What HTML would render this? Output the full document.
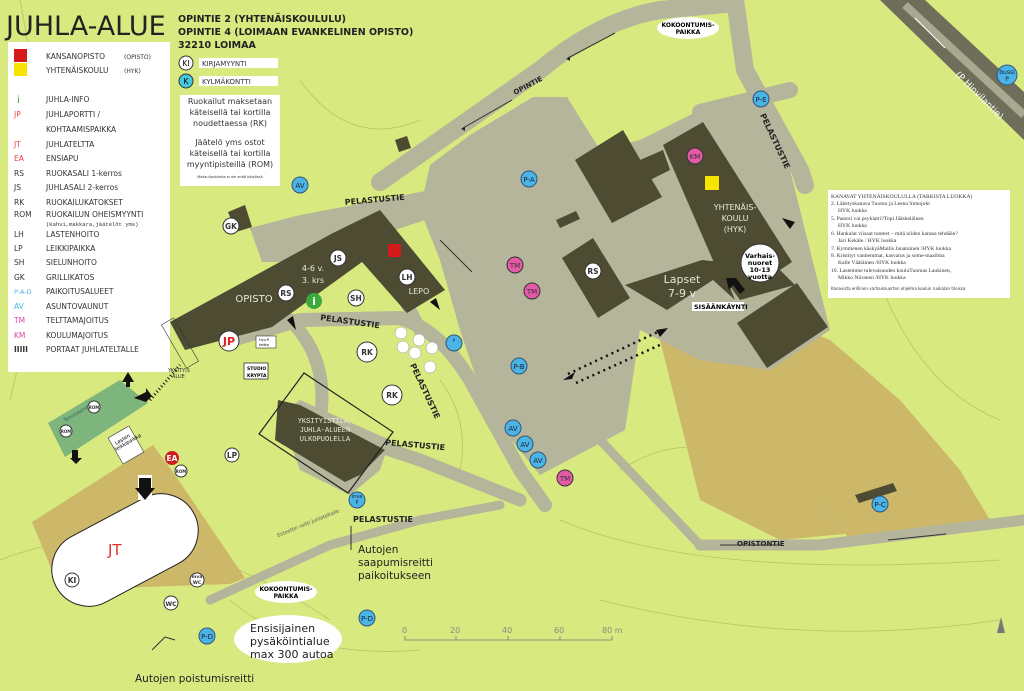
<!DOCTYPE html>
<html><head><meta charset="utf-8"><style>
html,body{margin:0;padding:0;background:#d8e97f;}
svg{display:block;font-family:"DejaVu Sans","Liberation Sans",sans-serif;}
.c{stroke:#333;stroke-width:1}
</style></head><body>
<svg width="1024" height="691" viewBox="0 0 1024 691" xmlns="http://www.w3.org/2000/svg">
<rect width="1024" height="691" fill="#d8e97f"/>
<g fill="none" stroke="#b4c46a" stroke-width="0.8">
<path d="M0 560 Q150 500 330 620"/><path d="M560 520 Q700 580 1000 560"/><path d="M600 600 Q800 650 1000 620"/>
<path d="M20 0 Q60 200 10 400"/><path d="M300 80 Q350 150 420 120"/><path d="M860 220 Q900 380 1000 420"/>
<path d="M440 380 Q470 420 460 470"/><path d="M620 470 Q700 420 760 480"/><path d="M230 600 Q300 660 420 650"/>
</g>
<!-- tan areas -->
<polygon points="650,300 730,300 830,340 900,400 960,470 990,520 940,525 780,540 700,500" fill="#cdb86a"/>
<polygon points="820,500 880,480 930,500 960,530 900,540 850,540" fill="#cdb86a"/>
<polygon points="32,522 153,445 175,475 245,578 230,584 60,590" fill="#cdb86a"/>
<!-- roads -->
<g stroke="#b4b59a" fill="none" stroke-linecap="round" stroke-linejoin="round">
<path d="M380 182 L540 70 Q600 20 660 10 L735 3" stroke-width="18"/>
<path d="M735 0 L745 70 L800 170 L805 185" stroke-width="18"/>
<path d="M700 112 L790 90" stroke-width="16"/>
<path d="M232 340 L300 320 L400 318 Q440 330 470 380 L520 470 L545 505" stroke-width="14"/>
<path d="M290 320 Q330 360 320 420" stroke-width="13"/>
<path d="M300 410 L360 440 L420 460 L470 480 L520 500" stroke-width="13"/>
<path d="M380 250 L410 310 L420 330" stroke-width="13"/>
<path d="M600 440 L700 545" stroke-width="9"/>
<path d="M700 545 L820 545 L1024 520" stroke-width="11"/>
<path d="M210 600 L330 545 L420 520 L500 505" stroke-width="9"/>
</g>
<polygon points="430,165 470,135 533,97 567,97 600,150 640,140 700,110 760,100 790,170 830,330 770,370 700,360 640,330 625,430 540,475 487,410 460,330 440,260 420,210" fill="#b4b59a"/>
<polygon points="250,228 300,215 380,200 430,190 440,215 300,262 262,262" fill="#b4b59a"/>
<polygon points="280,415 300,400 390,440 380,470 350,495 300,470" fill="#b4b59a"/>
<!-- top right dark road -->
<polygon points="880,0 925,0 1024,92 1024,140" fill="#6f6e5a"/>
<line x1="905" y1="5" x2="1024" y2="115" stroke="#a9a890" stroke-width="8"/>
<text x="955" y="75" font-size="9" fill="#fff" transform="rotate(45 955 75)">(P Hinvilantie)</text>
<line x1="915" y1="18" x2="945" y2="48" stroke="#fff" stroke-width="1"/>
<!-- opisto building -->
<polygon points="170,322 333,233 380,210 445,290 407,313 362,262 272,327 185,350" fill="#4d4c33"/>
<polygon points="278,400 300,405 385,450 360,475 345,482 275,440" fill="#4d4c33"/>
<polygon points="259,434 304,373 393,432 348,493" fill="none" stroke="#222" stroke-width="1.2"/>
<polygon points="228,212 245,205 252,227 236,232" fill="#4d4c33"/>
<polygon points="395,140 407,136 411,148 399,152" fill="#4d4c33"/>
<!-- school -->
<polygon points="575,160 623,130 662,197 612,223" fill="#4d4c33"/>
<polygon points="640,160 663,150 670,170 650,180" fill="#4d4c33"/>
<polygon points="663,145 703,122 792,262 780,270 795,285 740,300 715,265" fill="#4d4c33"/>
<polygon points="737,323 797,283 828,327 767,368" fill="#4d4c33"/>
<polygon points="562,258 593,238 630,298 598,318" fill="#4d4c33"/>
<polygon points="625,285 702,260 720,262 735,300 713,280 667,310" fill="#4d4c33"/>
<polygon points="556,220 576,211 580,219 560,228" fill="#4d4c33"/>
<polygon points="855,495 893,483 897,491 859,503" fill="#4d4c33"/>
<!-- tennis court -->
<polygon points="48,423 120,380 148,403 65,457" fill="#7db57c"/>
<text x="65" y="422" font-size="5" fill="#366" transform="rotate(-30 65 422)">Tenniskenttä</text>
<!-- JT capsule -->
<g transform="translate(125,550) rotate(-28)"><rect x="-78" y="-37" width="156" height="74" rx="37" fill="#fff" stroke="#222" stroke-width="1"/></g>
<text x="108" y="555" font-size="15" fill="#e03030">JT</text>
<!-- legend -->
<rect x="8" y="42" width="162" height="330" fill="#fff"/>
<text x="6" y="35" font-size="27" font-family="DejaVu Sans" fill="#222">JUHLA-ALUE</text>
<rect x="14" y="49" width="13" height="13" fill="#d41a1a"/><rect x="14" y="63" width="13" height="13" fill="#f6e400"/>
<g font-size="7.5" fill="#333">
<text x="46" y="59">KANSANOPISTO</text><text x="124" y="59" font-size="6">(OPISTO)</text>
<text x="46" y="73">YHTENÄISKOULU</text><text x="124" y="73" font-size="6">(HYK)</text>
<text x="17" y="103" fill="#3a3" font-size="10">i</text><text x="46" y="102">JUHLA-INFO</text>
<text x="14" y="117" fill="#e44">JP</text><text x="46" y="117">JUHLAPORTTI /</text>
<text x="46" y="132">KOHTAAMISPAIKKA</text>
<text x="14" y="147" fill="#e44">JT</text><text x="46" y="147">JUHLATELTTA</text>
<text x="14" y="161" fill="#e44">EA</text><text x="46" y="161">ENSIAPU</text>
<text x="14" y="176">RS</text><text x="46" y="176">RUOKASALI 1-kerros</text>
<text x="14" y="190">JS</text><text x="46" y="190">JUHLASALI  2-kerros</text>
<text x="14" y="205">RK</text><text x="46" y="205">RUOKAILUKATOKSET</text>
<text x="14" y="217">ROM</text><text x="46" y="217">RUOKAILUN OHEISMYYNTI</text>
<text x="46" y="226" font-size="5.5" font-family="Liberation Mono">(Kahvi,makkara,jäätelöt yms)</text>
<text x="14" y="237">LH</text><text x="46" y="237">LASTENHOITO</text>
<text x="14" y="251">LP</text><text x="46" y="251">LEIKKIPAIKKA</text>
<text x="14" y="265">SH</text><text x="46" y="265">SIELUNHOITO</text>
<text x="14" y="280">GK</text><text x="46" y="280">GRILLIKATOS</text>
<text x="14" y="294" fill="#4ab4e6" font-size="6.5">P-A-D</text><text x="46" y="294">PAIKOITUSALUEET</text>
<text x="14" y="309" fill="#4ab4e6">AV</text><text x="46" y="309">ASUNTOVAUNUT</text>
<text x="14" y="323" fill="#e040a0">TM</text><text x="46" y="323">TELTTAMAJOITUS</text>
<text x="14" y="338" fill="#e040a0">KM</text><text x="46" y="338">KOULUMAJOITUS</text>
<text x="14" y="352" font-weight="bold">IIIII</text><text x="46" y="352">PORTAAT JUHLATELTALLE</text>
</g>
<!-- header -->
<g font-size="9.5" font-weight="bold" fill="#222">
<text x="178" y="22">OPINTIE 2 (YHTENÄISKOULULU)</text>
<text x="178" y="35">OPINTIE 4 (LOIMAAN EVANKELINEN OPISTO)</text>
<text x="178" y="48">32210 LOIMAA</text>
</g>
<rect x="199" y="58" width="79" height="10" fill="#fff"/><rect x="199" y="76" width="79" height="10" fill="#fff"/>
<text x="202" y="66" font-size="7" fill="#333">KIRJAMYYNTI</text><text x="202" y="84" font-size="7" fill="#333">KYLMÄKONTTI</text>
<rect x="180" y="95" width="100" height="91" fill="#fff"/>
<g font-size="8" fill="#333" text-anchor="middle">
<text x="230" y="104">Ruokailut maksetaan</text><text x="230" y="115">käteisellä tai kortilla</text><text x="230" y="126">noudettaessa (RK)</text>
<text x="230" y="145">Jäätelö yms ostot</text><text x="230" y="156">käteisellä tai kortilla</text><text x="230" y="167">myyntipisteillä (ROM)</text>
<text x="230" y="178" font-size="3.5">Maksulipukkeita ei ole enää käytössä</text>
</g>
<!-- right box -->
<rect x="828" y="190" width="182" height="108" fill="#fff"/>
<g font-size="5.6" font-family="Liberation Serif" fill="#333">
<text x="831" y="198">KANAVAT YHTENÄISKOULULLA (TARKISTA LUOKKA)</text>
<text x="831" y="205">2.   Lähetyskanava Tuomo ja Leena Simojoki</text><text x="838" y="212">HYK luokka</text>
<text x="831" y="220">5.   Pastori vai psykiatri?Topi Jääskeläinen</text><text x="838" y="227">HYK luokka</text>
<text x="831" y="235">6.   Hankalat viisaat tunteet – mitä niiden kanssa tehdään?</text><text x="838" y="242">Jari Kekäle / HYK luokka</text>
<text x="831" y="250">7.   Kymmenen käskyäMailis Janatuinen /HYK luokka</text>
<text x="831" y="257">8.   Kristityt vanhemmat, kasvatus ja some-maailma</text><text x="838" y="264">Kalle Väätäinen /HYK luokka</text>
<text x="831" y="272">10. Lastemme tulevaisuuden kouluTuomas Laukinen,</text><text x="838" y="279">Mikko Niiranen /HYK luokka</text>
<text x="831" y="290" font-family="DejaVu Sans" font-size="4">Kanavista erillinen varhaisnuorten ohjelma koulun ruokalan tiloissa</text>
</g>
<!-- circles -->
<g font-size="7.5" text-anchor="middle" font-weight="bold">
<circle cx="186" cy="63" r="7" fill="#fff" class="c"/><text x="186" y="66" font-weight="normal">KI</text>
<circle cx="186" cy="81" r="7" fill="#45c8e0" class="c"/><text x="186" y="84" font-weight="normal">K</text>
<g fill="#fff" stroke="#333"><circle cx="231" cy="226" r="8"/><circle cx="338" cy="258" r="8"/><circle cx="407" cy="277" r="8"/><circle cx="286" cy="293" r="8"/><circle cx="356" cy="298" r="8"/><circle cx="229" cy="341" r="10"/><circle cx="593" cy="271" r="8"/><circle cx="232" cy="455" r="7"/><circle cx="72" cy="580" r="7"/><circle cx="171" cy="603" r="7"/><circle cx="197" cy="580" r="7"/><circle cx="367" cy="352" r="10"/><circle cx="392" cy="395" r="10"/><circle cx="94" cy="407" r="6"/><circle cx="66" cy="431" r="6"/><circle cx="181" cy="471" r="6"/></g>
<g fill="#333"><text x="231" y="229">GK</text><text x="338" y="261">JS</text><text x="407" y="280">LH</text><text x="286" y="296">RS</text><text x="356" y="301">SH</text><text x="593" y="274">RS</text><text x="232" y="458">LP</text><text x="72" y="583">KI</text><text x="171" y="606" font-size="6">WC</text><text x="197" y="578" font-size="4.5">inva</text><text x="197" y="584" font-size="4.5">WC</text><text x="367" y="355">RK</text><text x="392" y="398">RK</text><text x="94" y="409" font-size="4">ROM</text><text x="66" y="433" font-size="4">ROM</text><text x="181" y="473" font-size="4">ROM</text></g>
<text x="229" y="345" fill="#e02020" font-size="11">JP</text>
<circle cx="314" cy="301" r="8" fill="#3aaa3a"/><text x="314" y="305" fill="#fff" font-size="11">i</text>
<circle cx="172" cy="458" r="7" fill="#cc2020"/><text x="172" y="461" fill="#fff">EA</text>
<g fill="#4ab4e6" stroke="#357"><circle cx="300" cy="185" r="8"/><circle cx="529" cy="179" r="8"/><circle cx="761" cy="99" r="8"/><circle cx="1007" cy="75" r="10"/><circle cx="519" cy="366" r="8"/><circle cx="513" cy="428" r="8"/><circle cx="525" cy="444" r="8"/><circle cx="538" cy="460" r="8"/><circle cx="880" cy="504" r="8"/><circle cx="207" cy="636" r="8"/><circle cx="367" cy="618" r="8"/><circle cx="357" cy="500" r="8"/><circle cx="454" cy="343" r="8"/></g>
<g fill="#223" font-weight="normal" font-size="7"><text x="300" y="188">AV</text><text x="529" y="182">P-A</text><text x="761" y="102">P-E</text><text x="1007" y="74" font-size="6">bussi</text><text x="1007" y="81" font-size="6">P</text><text x="519" y="369">P-B</text><text x="513" y="431">AV</text><text x="525" y="447">AV</text><text x="538" y="463">AV</text><text x="880" y="507">P-C</text><text x="207" y="639">P-D</text><text x="367" y="621">P-D</text><text x="357" y="498" font-size="5">inva</text><text x="357" y="504" font-size="5">P</text><text x="454" y="342" font-size="4">P</text></g>
<g fill="#e55aa6" stroke="#333"><circle cx="515" cy="265" r="8"/><circle cx="532" cy="291" r="8"/><circle cx="565" cy="478" r="8"/><circle cx="695" cy="156" r="8"/></g>
<g fill="#333" font-weight="normal" font-size="7"><text x="515" y="268">TM</text><text x="532" y="294">TM</text><text x="565" y="481">TM</text><text x="695" y="159">KM</text></g>
</g>
<g fill="#fff" stroke="#999" stroke-width=".5"><circle cx="401" cy="333" r="6"/><circle cx="419" cy="340" r="6"/><circle cx="415" cy="353" r="6"/><circle cx="432" cy="348" r="6"/><circle cx="430" cy="367" r="6"/><circle cx="403" cy="347" r="6"/></g>
<rect x="388" y="244" width="13" height="13" fill="#d41a1a"/>
<rect x="705" y="176" width="14" height="14" fill="#f6e400"/>
<!-- building labels -->
<g fill="#e8e8d8" font-size="10" text-anchor="middle">
<text x="254" y="302">OPISTO</text><text x="313" y="271" font-size="8">4-6 v.</text><text x="313" y="283" font-size="8">3. krs</text>
<text x="419" y="294" font-size="8">LEPO</text>
<text x="735" y="210" font-size="8">YHTENÄIS-</text><text x="735" y="221" font-size="8">KOULU</text><text x="735" y="232" font-size="8">(HYK)</text>
<text x="682" y="283" font-size="11">Lapset</text><text x="682" y="297" font-size="11">7-9 v</text>
<text x="325" y="423" font-size="7" font-family="Liberation Mono">YKSITYISTILA,</text><text x="325" y="432" font-size="7" font-family="Liberation Mono">JUHLA-ALUEEN</text><text x="325" y="441" font-size="7" font-family="Liberation Mono">ULKOPUOLELLA</text>
</g>
<circle cx="760" cy="263" r="19" fill="#fff" stroke="#333"/>
<g font-size="6.5" font-weight="bold" text-anchor="middle"><text x="760" y="258">Varhais-</text><text x="760" y="265">nuoret</text><text x="760" y="272">10-13</text><text x="760" y="279">vuotta</text></g>
<rect x="692" y="302" width="52" height="9" fill="#fff"/><text x="694" y="309" font-size="6.5" font-weight="bold">SISÄÄNKÄYNTI</text>
<polygon points="726,278 736,278 745,290 740,294 733,285 729,290" fill="#111"/>
<!-- road labels -->
<g font-size="8" font-weight="bold" fill="#222">
<text x="345" y="205" transform="rotate(-5 345 205)">PELASTUSTIE</text>
<text x="320" y="320" transform="rotate(8 320 320)">PELASTUSTIE</text>
<text x="410" y="365" transform="rotate(65 410 365)">PELASTUSTIE</text>
<text x="385" y="445" transform="rotate(5 385 445)">PELASTUSTIE</text>
<text x="353" y="522">PELASTUSTIE</text>
<text x="760" y="115" transform="rotate(65 760 115)">PELASTUSTIE</text>
<text x="515" y="95" font-size="7" transform="rotate(-28 515 95)">OPINTIE</text>
<text x="737" y="546" font-size="7">OPISTONTIE</text>
</g>
<text x="278" y="537" font-size="5" fill="#555" transform="rotate(-22 278 537)">Esteetön reitti juhlateltalle</text>
<!-- arrows -->
<g stroke="#333" stroke-width="1" fill="none">
<line x1="615" y1="33" x2="568" y2="58"/><line x1="512" y1="100" x2="463" y2="128"/>
<line x1="440" y1="240" x2="472" y2="272"/>
<line x1="720" y1="545" x2="782" y2="545"/><line x1="888" y1="540" x2="946" y2="534"/>
<line x1="351" y1="526" x2="351" y2="550"/><line x1="152" y1="650" x2="165" y2="637"/><line x1="165" y1="637" x2="175" y2="640"/>
</g>
<g fill="#222" font-size="8"><text x="566" y="61">◂</text><text x="461" y="131">◂</text></g>
<g stroke="#111" stroke-width="2.5" stroke-dasharray="2 4" fill="none"><line x1="568" y1="374" x2="662" y2="330"/><line x1="576" y1="383" x2="662" y2="344"/></g>
<polygon points="563,380 575,372 572,379" fill="#111"/><polygon points="668,328 656,330 660,337" fill="#111"/>
<g fill="#111"><polygon points="287,320 293,316 296,330"/><polygon points="430,302 436,298 440,310"/><polygon points="795,222 782,218 790,229"/></g>
<g stroke="#111" stroke-width="3" stroke-dasharray="1 2.5"><line x1="150" y1="400" x2="180" y2="365"/></g>
<rect x="138" y="475" width="14" height="25" fill="#fff"/><polygon points="139,478 151,478 151,488 155,488 145,500 135,488 139,488" fill="#111"/>
<polygon points="122,382 128,372 134,382" fill="#111"/><rect x="126" y="381" width="4" height="6" fill="#111"/>
<polygon points="134,398 146,392 146,388 152,396 146,402" fill="#111"/>
<polygon points="72,450 78,450 78,458 82,458 76,464 70,458 72,458" fill="#111"/>
<rect x="114" y="430" width="24" height="30" fill="#fff" stroke="#333" stroke-width=".6" transform="rotate(-30 126 445)"/>
<text x="116" y="445" font-size="5" transform="rotate(-30 116 445)">Lasten</text><text x="116" y="451" font-size="5" transform="rotate(-30 116 451)">leikkipaikka</text>
<rect x="256" y="336" width="20" height="12" fill="#fff" stroke="#333" stroke-width=".6"/><text x="259" y="341" font-size="3.5">Hyv.P.</text><text x="259" y="346" font-size="3.5">tettta</text>
<rect x="244" y="363" width="24" height="16" fill="#fff" stroke="#333" stroke-width=".8"/><text x="247" y="370" font-size="4.5" font-weight="bold">STUDIO</text><text x="247" y="377" font-size="4.5" font-weight="bold">KRYPTA</text>
<!-- ellipses -->
<ellipse cx="688" cy="28" rx="31" ry="11" fill="#fff"/><text x="688" y="27" font-size="6" font-weight="bold" text-anchor="middle">KOKOONTUMIS-</text><text x="688" y="34" font-size="6" font-weight="bold" text-anchor="middle">PAIKKA</text>
<ellipse cx="286" cy="592" rx="31" ry="11" fill="#fff"/><text x="286" y="591" font-size="6" font-weight="bold" text-anchor="middle">KOKOONTUMIS-</text><text x="286" y="598" font-size="6" font-weight="bold" text-anchor="middle">PAIKKA</text>
<ellipse cx="288" cy="639" rx="54" ry="24" fill="#fff"/>
<g font-size="11" fill="#222"><text x="250" y="632">Ensisijainen</text><text x="250" y="645">pysäköintialue</text><text x="250" y="658">max 300 autoa</text></g>
<g font-size="10.5" fill="#222"><text x="358" y="553">Autojen</text><text x="358" y="566">saapumisreitti</text><text x="358" y="579">paikoitukseen</text><text x="135" y="682">Autojen poistumisreitti</text></g>
<!-- scale -->
<g stroke="#777" fill="none" stroke-width=".8"><path d="M405 636 V640 H612"/><line x1="456" y1="636" x2="456" y2="640"/><line x1="508" y1="636" x2="508" y2="640"/><line x1="560" y1="636" x2="560" y2="640"/><line x1="612" y1="636" x2="612" y2="640"/></g>
<g font-size="8" fill="#888"><text x="402" y="633">0</text><text x="450" y="633">20</text><text x="502" y="633">40</text><text x="554" y="633">60</text><text x="602" y="633">80 m</text></g>
<polygon points="997,633 1001,617 1005,633" fill="#777"/>
<text x="168" y="372" font-size="5" fill="#333">YKSITYIS</text><text x="172" y="378" font-size="5" fill="#333">ALUE</text>
<rect x="173" y="318" width="14" height="50" fill="none" stroke="#333" stroke-width=".6" transform="rotate(-30 180 343)"/>
</svg>
</body></html>
